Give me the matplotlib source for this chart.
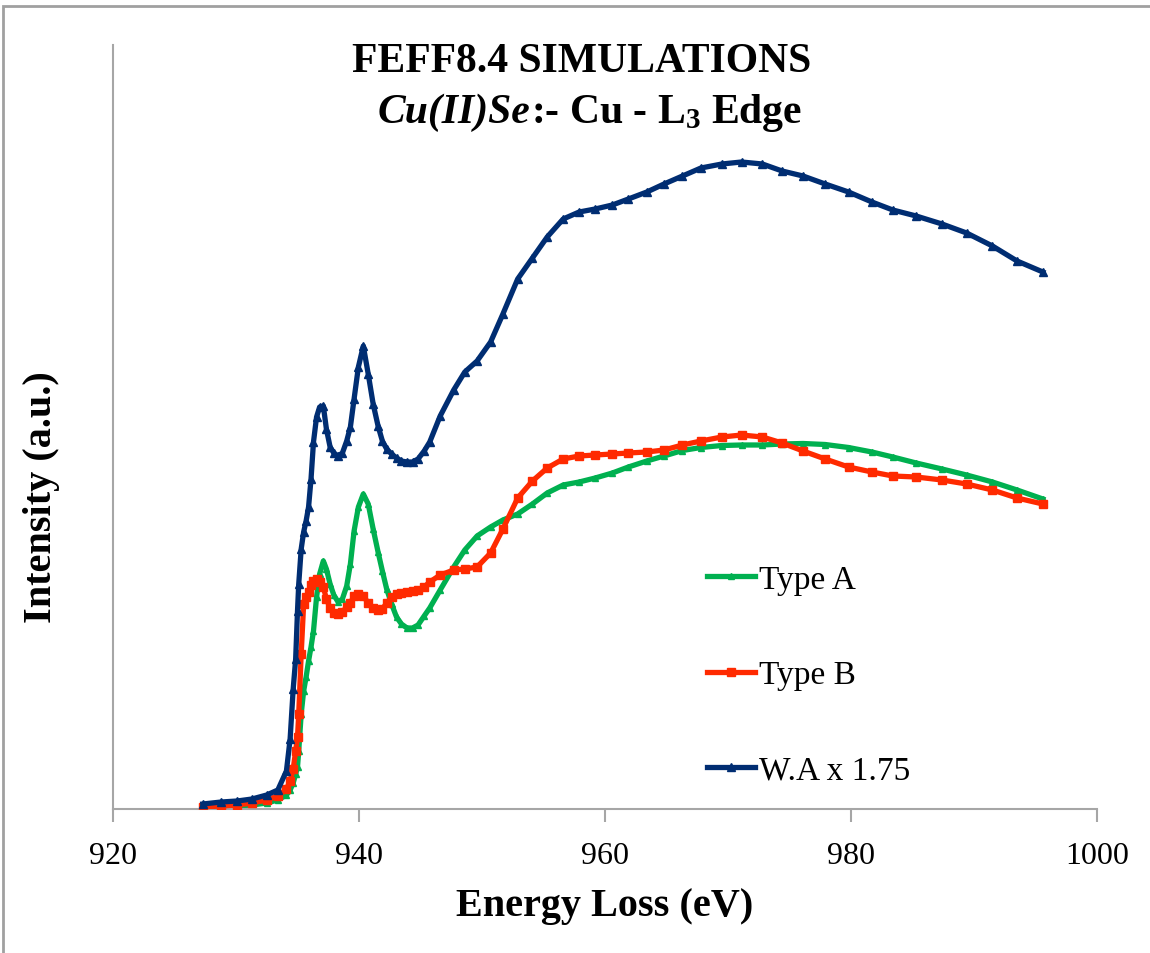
import matplotlib
matplotlib.use("Agg")
import matplotlib.pyplot as plt
from matplotlib.patches import Rectangle

# energy grid (eV)
energy = [927.3, 928.8, 930.1, 931.3, 932.5, 933.4, 934.1, 934.4, 934.65, 934.85,
          935.0, 935.1, 935.3, 935.5, 935.7, 935.9, 936.1, 936.3, 936.55, 936.8,
          937.1, 937.35, 937.65, 937.95, 938.3, 938.65, 939.0, 939.3, 939.6, 939.95,
          940.35, 940.75, 941.15, 941.55, 941.9, 942.25, 942.65, 943.05, 943.45, 943.9,
          944.35, 944.8, 945.3, 945.75, 946.6, 947.7, 948.6, 949.6, 950.7, 951.7,
          952.9, 954.1, 955.3, 956.6, 957.9, 959.2, 960.6, 961.9, 963.4, 964.8,
          966.3, 967.8, 969.5, 971.1, 972.8, 974.4, 976.1, 977.9, 979.8, 981.7,
          983.4, 985.3, 987.4, 989.4, 991.5, 993.5, 995.6]

type_a = [0.02, 0.02, 0.03, 0.04, 0.06, 0.09, 0.14, 0.19, 0.26, 0.35,
          0.42, 0.58, 0.95, 1.18, 1.32, 1.48, 1.62, 1.78, 2.12, 2.35,
          2.48, 2.40, 2.25, 2.14, 2.07, 2.10, 2.23, 2.45, 2.78, 3.02,
          3.15, 3.05, 2.80, 2.57, 2.38, 2.20, 2.05, 1.92, 1.85, 1.81,
          1.81, 1.84, 1.93, 2.01, 2.19, 2.42, 2.59, 2.73, 2.82, 2.89,
          2.95, 3.05, 3.16, 3.24, 3.27, 3.31, 3.36, 3.42, 3.48, 3.53,
          3.585, 3.615, 3.635, 3.64, 3.64, 3.65, 3.655, 3.645, 3.615, 3.57,
          3.52, 3.46, 3.40, 3.34, 3.27, 3.19, 3.10]

type_b = [0.02, 0.03, 0.04, 0.06, 0.09, 0.13, 0.20, 0.28, 0.40, 0.58,
          0.72, 0.95, 1.55, 2.05, 2.12, 2.17, 2.24, 2.28, 2.30, 2.27,
          2.22, 2.10, 2.01, 1.96, 1.95, 1.97, 2.02, 2.06, 2.13, 2.15,
          2.13, 2.06, 2.01, 1.99, 2.00, 2.06, 2.12, 2.15, 2.16, 2.17,
          2.18, 2.19, 2.22, 2.27, 2.34, 2.39, 2.40, 2.42, 2.56, 2.80,
          3.11, 3.28, 3.41, 3.50, 3.53, 3.54, 3.55, 3.56, 3.57, 3.59,
          3.64, 3.68, 3.72, 3.74, 3.72, 3.66, 3.58, 3.50, 3.42, 3.37,
          3.33, 3.32, 3.29, 3.25, 3.19, 3.11, 3.05]

wa_175 = [0.05, 0.07, 0.08, 0.10, 0.14, 0.19, 0.38, 0.70, 1.20, 1.50,
          1.98, 2.25, 2.60, 2.77, 2.88, 3.02, 3.30, 3.67, 3.92, 4.02,
          4.03, 3.80, 3.62, 3.56, 3.53, 3.56, 3.68, 3.82, 4.10, 4.42,
          4.63, 4.35, 4.05, 3.83, 3.68, 3.60, 3.55, 3.51, 3.48, 3.47,
          3.47, 3.50, 3.58, 3.67, 3.93, 4.19, 4.37, 4.48, 4.67, 4.95,
          5.30, 5.51, 5.72, 5.90, 5.97, 6.00, 6.04, 6.10, 6.17, 6.25,
          6.33, 6.41, 6.45, 6.47, 6.45, 6.38, 6.33, 6.25, 6.17, 6.07,
          5.99, 5.93, 5.85, 5.76, 5.63, 5.48, 5.37]

xticks = [920, 940, 960, 980, 1000]

SERIF = "Liberation Serif"
plt.rcParams["font.family"] = [SERIF, "DejaVu Serif"]
plt.rcParams["mathtext.fontset"] = "custom"
plt.rcParams["mathtext.rm"] = "Liberation Serif:bold"
plt.rcParams["mathtext.it"] = "Liberation Serif:italic:bold"
plt.rcParams["mathtext.bf"] = "Liberation Serif:bold"

W, H = 1150, 954
fig = plt.figure(figsize=(W / 100, H / 100), dpi=100)
ax = fig.add_axes([113 / W, (H - 810) / H, 984 / W, 764 / H])

ax.plot(energy, type_a, color="#00B050", lw=3.8, marker="^", ms=4.5,
        label="Type A", zorder=2)
ax.plot(energy, type_b, color="#FF2A00", lw=3.8, marker="s", ms=6,
        label="Type B", zorder=3)
ax.plot(energy, wa_175, color="#002D72", lw=3.8, marker="^", ms=5.5,
        label="W.A x 1.75", zorder=4)

ax.set_xlim(920, 1000)
ax.set_ylim(0, 7.64)
ax.set_xticks(xticks)
ax.set_yticks([])
for s in ["top", "right"]:
    ax.spines[s].set_visible(False)
for s in ["left", "bottom"]:
    ax.spines[s].set_color("#a6a6a6")
    ax.spines[s].set_linewidth(1.5)
ax.tick_params(axis="x", direction="out", length=9, width=1.5,
               color="#a6a6a6", labelsize=23, pad=14)

ax.set_xlabel("Energy Loss (eV)", fontsize=29, fontweight="bold")
ax.xaxis.set_label_coords(0.5, (810 - 907) / 764)
ax.xaxis.label.set_va("center")
ax.set_ylabel("Intensity (a.u.)", fontsize=29, fontweight="bold")
ax.yaxis.set_label_coords((42 - 113) / 984, (810 - 497) / 764)
ax.yaxis.label.set_va("center")

fig.text(582 / W, 1 - 62 / H, "FEFF8.4 SIMULATIONS", ha="center", va="center",
         fontsize=30, fontweight="bold")

# second title line: italic part + upright part, centred together
y2 = 1 - 113 / H
t_it = fig.text(0, y2, "Cu(II)Se", ha="left", va="center", fontsize=30,
                fontweight="bold", fontstyle="italic")
t_rm = fig.text(0, y2, r":- Cu - L$_{\mathrm{3}}$ Edge", ha="left", va="center",
                fontsize=30, fontweight="bold")
r = fig.canvas.get_renderer()
w_it = t_it.get_window_extent(r).width
w_rm = t_rm.get_window_extent(r).width
x0 = 590 - (w_it + w_rm) / 2
t_it.set_x(x0 / W)
t_rm.set_x((x0 + w_it) / W)

ax.legend(loc="center left", bbox_to_anchor=(677 / W, 1 - 676 / H),
          bbox_transform=fig.transFigure, frameon=False, fontsize=24,
          handlelength=1.45, handletextpad=0.1, labelspacing=1.95)

# chart-area border (top and left edges visible)
fig.patches.append(Rectangle((3 / W, -0.1), 1.2, 1 - 7 / H + 0.1,
                             transform=fig.transFigure, fill=False,
                             edgecolor="#a0a0a0", lw=2))

fig.savefig("out.png", dpi=100)
